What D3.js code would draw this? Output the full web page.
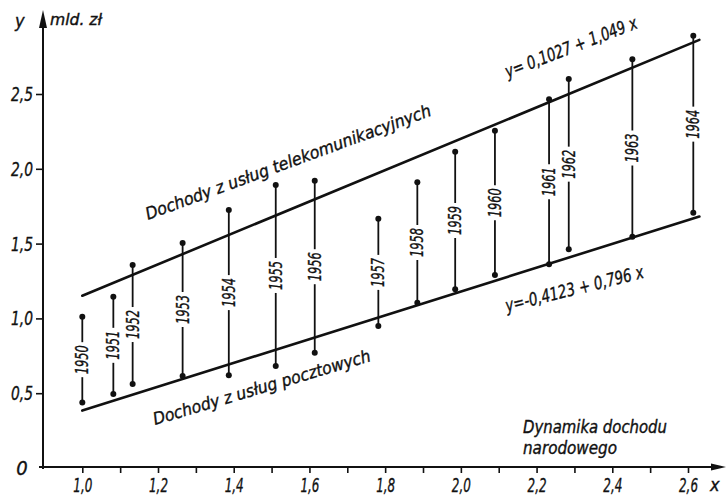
<!DOCTYPE html>
<html>
<head>
<meta charset="utf-8">
<script src="https://cdn.jsdelivr.net/npm/d3@7"></script>
<style>
  html, body { margin: 0; padding: 0; background: #fff; }
  svg { display: block; }
  text { font-family: "Liberation Sans Narrow", "DejaVu Sans Condensed", sans-serif; font-style: italic; fill: #111; stroke: #111; stroke-width: 0.35px; }
</style>
</head>
<body>
<svg id="chart" width="726" height="497"></svg>
<script>
// ---- data ----
const years   = [1950, 1951, 1952, 1953, 1954, 1955, 1956, 1957, 1958, 1959, 1960, 1961, 1962, 1963, 1964];
const income  = [1.000, 1.082, 1.133, 1.265, 1.387, 1.511, 1.614, 1.782, 1.885, 1.985, 2.090, 2.233, 2.285, 2.453, 2.614];
const telecom = [1.011, 1.145, 1.357, 1.504, 1.725, 1.892, 1.920, 1.666, 1.910, 2.114, 2.255, 2.465, 2.600, 2.732, 2.890];
const postal  = [0.437, 0.495, 0.561, 0.615, 0.620, 0.682, 0.771, 0.949, 1.105, 1.195, 1.290, 1.362, 1.462, 1.546, 1.707];
const telecomFit = { a: 0.1027, b: 1.049 };
const postalFit  = { a: -0.4123, b: 0.796 };
const fitRange = [1.0, 2.63];
const xTickValues = [1.0, 1.1, 1.2, 1.3, 1.4, 1.5, 1.6, 1.7, 1.8, 1.9, 2.0, 2.1, 2.2, 2.3, 2.4, 2.5, 2.6];
const xLabelValues = [1.0, 1.2, 1.4, 1.6, 1.8, 2.0, 2.2, 2.4, 2.6];
const yTickValues = [0.5, 1.0, 1.5, 2.0, 2.5];
const texts = {
  yAxis: "y", yUnit: "mld. zł", xAxis: "x", origin: "0",
  xTitle1: "Dynamika dochodu", xTitle2: "narodowego",
  telecomLabel: "Dochody z usług telekomunikacyjnych",
  postalLabel: "Dochody z usług pocztowych",
  telecomEq: "y= 0,1027 + 1,049 x",
  postalEq: "y=-0,4123 + 0,796 x"
};

// ---- scales ----
const svg = d3.select("#chart");
const x = d3.scaleLinear().domain([1.0, 2.6]).range([82.3, 688]);
const y = d3.scaleLinear().domain([0, 2.5]).range([468, 94]);
const fmt = v => d3.format(".1f")(v).replace(".", ",");
const ink = "#111";

const x0 = 43, yBase = 467;

// ---- axes ----
const xAxis = d3.axisBottom(x).tickValues(xTickValues).tickSize(6).tickPadding(5)
  .tickFormat(v => xLabelValues.some(m => Math.abs(m - v) < 1e-6) ? fmt(v) : "");
const gx = svg.append("g").attr("transform", `translate(0,${yBase})`).call(xAxis);
gx.select(".domain").remove();
gx.selectAll(".tick line").attr("stroke", ink).attr("stroke-width", 1.6);
gx.selectAll(".tick text").attr("font-size", 20).attr("font-family", null).attr("fill", ink)
  .filter(function() { return this.textContent !== ""; })
  .attr("textLength", 19).attr("lengthAdjust", "spacingAndGlyphs");

const yAxis = d3.axisLeft(y).tickValues(yTickValues).tickSize(7).tickPadding(3).tickFormat(fmt);
const gy = svg.append("g").attr("transform", `translate(${x0},0)`).call(yAxis);
gy.select(".domain").remove();
gy.selectAll(".tick line").attr("stroke", ink).attr("stroke-width", 1.6);
gy.selectAll(".tick text").attr("font-size", 20).attr("font-family", null).attr("fill", ink)
  .attr("textLength", 22).attr("lengthAdjust", "spacingAndGlyphs");

// axis lines with arrows
svg.append("line").attr("x1", x0 - 4).attr("x2", 714).attr("y1", yBase).attr("y2", yBase)
  .attr("stroke", ink).attr("stroke-width", 2);
svg.append("path").attr("d", `M726,${yBase} L711,${yBase - 3.5} L711,${yBase + 3.5} Z`).attr("fill", ink);
svg.append("line").attr("x1", x0).attr("x2", x0).attr("y1", yBase + 2).attr("y2", 26)
  .attr("stroke", ink).attr("stroke-width", 2);
svg.append("path").attr("d", `M${x0},10 L${x0 - 4},28 L${x0 + 4},28 Z`).attr("fill", ink);

svg.append("text").attr("x", 22).attr("y", 475).attr("font-size", 20).attr("text-anchor", "middle").text(texts.origin);
svg.append("text").attr("x", 15).attr("y", 27).attr("font-size", 18).text(texts.yAxis);
svg.append("text").attr("x", 50).attr("y", 25).attr("font-size", 15)
  .attr("textLength", 52).attr("lengthAdjust", "spacingAndGlyphs").text(texts.yUnit);
svg.append("text").attr("x", 710).attr("y", 491).attr("font-size", 18).text(texts.xAxis);
svg.append("text").attr("x", 523).attr("y", 433).attr("font-size", 17)
  .attr("textLength", 144).attr("lengthAdjust", "spacingAndGlyphs").text(texts.xTitle1);
svg.append("text").attr("x", 523).attr("y", 454).attr("font-size", 17)
  .attr("textLength", 94).attr("lengthAdjust", "spacingAndGlyphs").text(texts.xTitle2);

// ---- regression lines ----
function fitLine(f) {
  return svg.append("line")
    .attr("x1", x(fitRange[0])).attr("y1", y(f.a + f.b * fitRange[0]))
    .attr("x2", x(fitRange[1])).attr("y2", y(f.a + f.b * fitRange[1]))
    .attr("stroke", ink).attr("stroke-width", 2.6).attr("stroke-linecap", "round");
}
fitLine(telecomFit);
fitLine(postalFit);

// ---- year segments ----
const data = years.map((yr, i) => ({ yr, x: income[i], top: telecom[i], bot: postal[i] }));
const seg = svg.append("g").selectAll("g").data(data).join("g");
seg.each(function(d) {
  const g = d3.select(this);
  const cx = x(d.x), yt = y(d.top), yb = y(d.bot), mid = (yt + yb) / 2;
  const L = 29;
  g.append("text")
    .attr("transform", `translate(${cx},${mid}) rotate(-90)`)
    .attr("text-anchor", "middle").attr("dy", "0.36em")
    .attr("font-size", 17).attr("font-style", "normal")
    .attr("textLength", L).attr("lengthAdjust", "spacingAndGlyphs").text(d.yr);
  const gap = L / 2 + 3;
  g.append("line").attr("x1", cx).attr("x2", cx).attr("y1", yt).attr("y2", mid - gap)
    .attr("stroke", ink).attr("stroke-width", 1.8);
  g.append("line").attr("x1", cx).attr("x2", cx).attr("y1", mid + gap).attr("y2", yb)
    .attr("stroke", ink).attr("stroke-width", 1.8);
  g.append("circle").attr("cx", cx).attr("cy", yt).attr("r", 3).attr("fill", ink);
  g.append("circle").attr("cx", cx).attr("cy", yb).attr("r", 3).attr("fill", ink);
});

// ---- annotations (anchored in data coordinates) ----
function note(str, xd, yd, angle, len, size) {
  svg.append("text")
    .attr("transform", `translate(${x(xd)},${y(yd)}) rotate(${angle})`)
    .attr("font-size", size)
    .attr("textLength", len).attr("lengthAdjust", "spacingAndGlyphs")
    .text(str);
}
note(texts.telecomLabel, 1.1735, 1.658, -20.2, 303, 17);
note(texts.postalLabel, 1.192, 0.287, -16.5, 226, 17);
note(texts.telecomEq, 2.124, 2.607, -21, 140, 18);
note(texts.postalEq, 2.122, 1.043, -14, 142, 18);
</script>
</body>
</html>
